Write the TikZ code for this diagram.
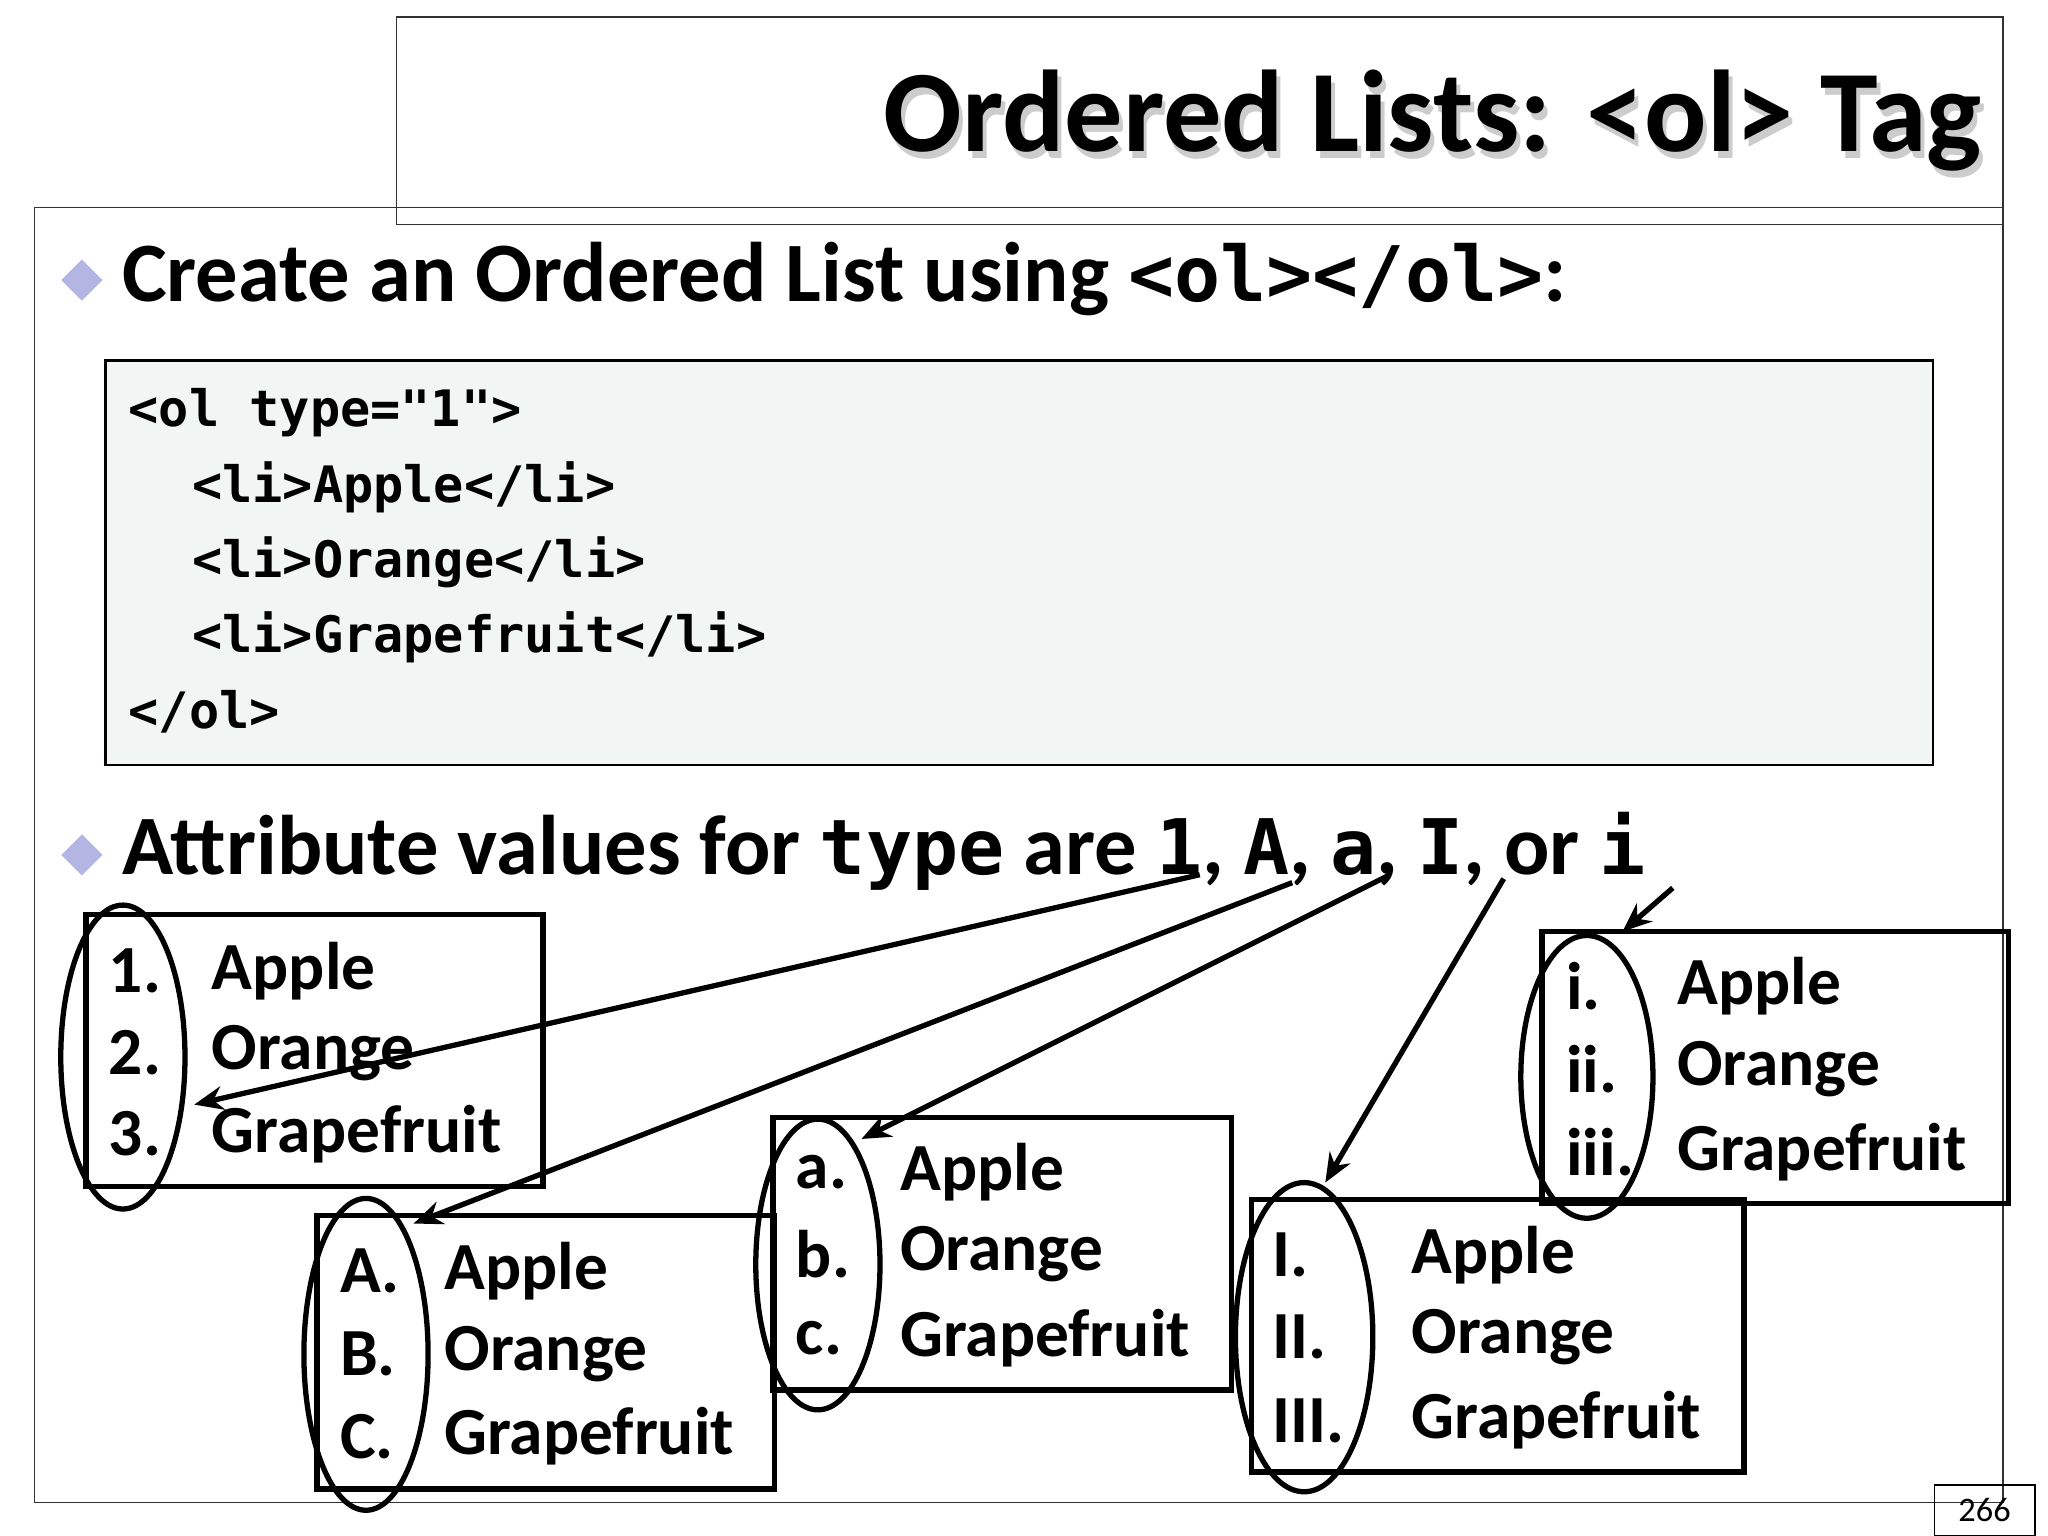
\documentclass[tikz,border=0pt]{standalone}
\usepackage{fontspec}
\setmainfont{Carlito}
\setmonofont{DejaVu Sans Mono}
\usetikzlibrary{arrows.meta}
\definecolor{codebg}{HTML}{F1F5F4}
\begin{document}
\begin{tikzpicture}[x=0.5pt,y=-0.5pt,
  frame/.style={draw=black!80,line width=0.6pt},
  lbox/.style={draw,line width=2pt},
  oval/.style={draw,line width=2pt},
  arr/.style={draw,line width=2pt,-{Stealth[length=11pt,width=9pt]}},
  item/.style={anchor=west,font=\fontsize{25.5}{30}\selectfont\bfseries,inner sep=0},
  code/.style={anchor=base west,font=\fontsize{19}{22}\selectfont\ttfamily\bfseries,inner sep=0},
  bul/.style={anchor=base west,font=\fontsize{32}{38}\selectfont\bfseries,inner sep=0},
  dia/.style={fill=cyan!25!blue!30!white,minimum size=11pt,inner sep=0,rotate=45}]
\useasboundingbox (0,0) rectangle (1550,1162);
\draw[frame] (26,157) rectangle (1516,1137);
\draw[frame,fill=white] (300,13) rectangle (1516,170);
\draw[frame] (300,157) -- (1516,157);
\node[anchor=base east,inner sep=0,text=black!20,font=\fontsize{44}{50}\selectfont\bfseries] at (1503,120) {Ordered Lists: <ol> Tag};
\node (title)[anchor=base east,inner sep=0,font=\fontsize{44}{50}\selectfont\bfseries] at (1500,115) {Ordered Lists: <ol> Tag};
\node (d1)[dia] at (62,212) {};
\node (b1)[bul] at (92,228) {Create an Ordered List using \texttt{\fontsize{29}{34}\selectfont <ol></ol>}:};
\node (cb)[draw,line width=1pt,fill=codebg,minimum width=691.5pt,minimum height=153pt,anchor=north west,inner sep=0] at (79,272) {};
\node (c1)[code] at (97,323) {<ol type="1">};
\node (c2)[code] at (145,380) {<li>Apple</li>};
\node (c3)[code] at (145,437) {<li>Orange</li>};
\node (c4)[code] at (145,494) {<li>Grapefruit</li>};
\node (c5)[code] at (97,551) {</ol>};
\node (d2)[dia] at (62,647) {};
\node (b2)[bul] at (92,662) {Attribute values for \texttt{\fontsize{29}{34}\selectfont type} are \texttt{\fontsize{29}{34}\selectfont 1}, \texttt{\fontsize{29}{34}\selectfont A}, \texttt{\fontsize{29}{34}\selectfont a}, \texttt{\fontsize{29}{34}\selectfont I}, or \texttt{\fontsize{29}{34}\selectfont i}};
% boxes
\draw[lbox] (65,692) rectangle (411,898);
\draw[lbox] (240,920) rectangle (586,1127);
\draw[lbox] (585,846) rectangle (932,1052);
\draw[lbox] (947,908) rectangle (1320,1114);
\draw[lbox] (1167,705) rectangle (1520,911);
\foreach \lx/\tx/\ya/\yb/\yc/\la/\lb/\lc in {82/160/735/797/858/1./2./3., 257/336/962/1025/1087/A./B./C., 602/681/887/949/1013/a./b./c., 963/1068/950/1012/1075/I./II./III., 1185/1269/746/809/872/i./ii./iii.}{
  \node[item] at (\lx,\ya) {\la}; \node[item] at (\tx,\ya) {Apple};
  \node[item] at (\lx,\yb) {\lb}; \node[item] at (\tx,\yb) {Orange};
  \node[item] at (\lx,\yc) {\lc}; \node[item] at (\tx,\yc) {Grapefruit};
}
\draw[oval] (93,800) ellipse [x radius=47,y radius=115];
\draw[oval] (277,1025) ellipse [x radius=47,y radius=118];
\draw[oval] (619,957) ellipse [x radius=47,y radius=110];
\draw[oval] (987,1012) ellipse [x radius=52,y radius=117];
\draw[oval] (1201,815) ellipse [x radius=50,y radius=107];
\coordinate (s1) at (908,662); \coordinate (e1) at (147,836);
\coordinate (s2) at (978,668); \coordinate (e2) at (313,926);
\coordinate (s3) at (1052,662); \coordinate (e3) at (652,862);
\coordinate (s4) at (1138,665); \coordinate (e4) at (1003,895);
\coordinate (s5) at (1266,672); \coordinate (e5) at (1228,705);
\foreach \i in {1,...,5}{\draw[arr] (s\i) -- (e\i);}
\node (pg)[draw,line width=0.6pt,minimum width=38pt,minimum height=19pt,inner sep=0,font=\fontsize{13}{15}\selectfont] at (1502,1143) {266};
\end{tikzpicture}
\end{document}
